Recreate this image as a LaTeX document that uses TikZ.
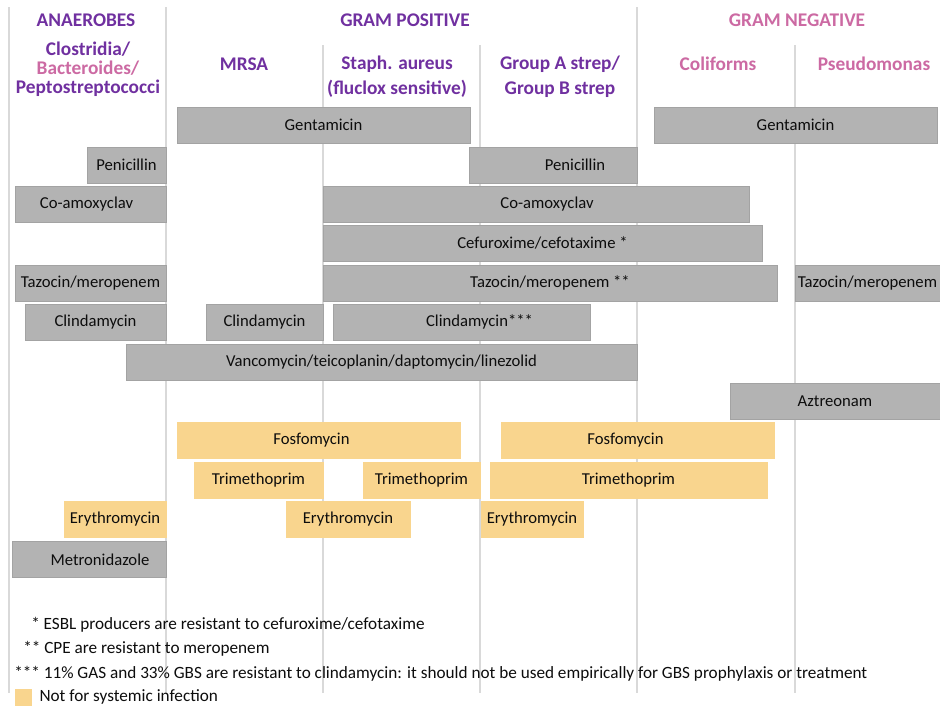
\documentclass[tikz,border=0pt]{standalone}
\usepackage{fontspec}
\setmainfont{Carlito}
\usepackage{tikz}
\definecolor{ink}{HTML}{0D0D0D}
\definecolor{headpos}{HTML}{7030A0}
\definecolor{headneg}{HTML}{CC6AA3}
\definecolor{drugfill}{HTML}{B3B3B3}
\definecolor{drugedge}{HTML}{A3A3A3}
\definecolor{topical}{HTML}{F9D58E}
\definecolor{rulegray}{HTML}{D9D9D9}
\usetikzlibrary{positioning}
\tikzset{
  every node/.style={text=ink},
  span/.style={minimum width=#1*0.75pt},
  nudge/.style={execute at begin node={\hspace*{\dimexpr #1pt*3/2\relax}}},
  drug/.style={
    fill=drugfill,
    draw=drugedge,
    line width=0.4pt,
    minimum height=27pt,
    inner sep=0pt,
    font=\fontsize{12.5}{14}\selectfont
  },
  drugY/.style={drug, fill=topical, draw=topical},
  head/.style={font=\bfseries\fontsize{14.5}{18.75}\selectfont, text=headpos, align=center, inner sep=0pt},
  headN/.style={head, text=headneg},
  note/.style={anchor=west, font=\fontsize{12.9}{14}\selectfont, inner sep=0pt},
  column/.style={draw=rulegray, line width=1.1pt}
}

\begin{document}
\begin{tikzpicture}[x=0.75pt, y=-0.75pt]
  \useasboundingbox (0,0) rectangle (940,711);
  \fill[white] (0,0) rectangle (940,711);

  % Column rules
  \draw[column] (9,7) -- (9,693);
  \draw[column] (166,7) -- (166,693);
  \draw[column] (323,45) -- (323,693);
  \draw[column] (480,45) -- (480,693);
  \draw[column] (637,7) -- (637,693);
  \draw[column] (795,45) -- (795,693);

  % Headings
  \node[head] (anaer) at (86,20) {ANAEROBES};
  \node[head] (gpos) at (405,20) {GRAM POSITIVE};
  \node[headN] (gneg) at (797,20) {GRAM NEGATIVE};
  \node[head, font=\bfseries\fontsize{14.5}{14.25}\selectfont] (clos) at (88,69)
    {Clostridia/\\\textcolor{headneg}{Bacteroides/}\\Peptostreptococci};
  \node[head] (mrsa) at (244,64) {MRSA};
  \node[head] (staph) at (397,76.5) {Staph. aureus\\(fluclox sensitive)};
  \node[head] (strep) at (560,76.5) {Group A strep/\\Group B strep};
  \node[headN] (colif) at (718,64) {Coliforms};
  \node[headN] (pseud) at (874,64) {Pseudomonas};

  % Systemic agents
  \node[drug, span=293] (gentP) at (323.5,125) {Gentamicin};
  \node[drug, span=283] (gentN) at (795.5,125) {Gentamicin};
  \node[drug, span=79] (penA) at (126.5,165) {Penicillin};
  \node[drug, span=168, nudge=22] (penS) at (553,165) {Penicillin};
  \node[drug, span=151, nudge=-4] (coamA) at (90.5,204.5) {Co-amoxyclav};
  \node[drug, span=426, nudge=11] (coamP) at (536,204.5) {Co-amoxyclav};
  \node[drug, span=439] (cef) at (542.5,243) {Cefuroxime/cefotaxime *};
  \node[drug, span=151] (tazA) at (90.5,283) {Tazocin/meropenem};
  \node[drug, span=454] (tazP) at (550,283) {Tazocin/meropenem **};
  \node[drug, span=145] (tazN) at (867.5,283) {Tazocin/meropenem};
  \node[drug, span=141] (clinA) at (95.5,322) {Clindamycin};
  \node[drug, span=117] (clinM) at (264.5,322) {Clindamycin};
  \node[drug, span=257, nudge=18] (clinS) at (461.5,322) {Clindamycin***};
  \node[drug, span=511] (vanc) at (381.5,362) {Vancomycin/teicoplanin/daptomycin/linezolid};
  \node[drug, span=210] (azt) at (835,401) {Aztreonam};

  % Not for systemic infection
  \node[drugY, span=283, nudge=-7] (fosP) at (318.5,440) {Fosfomycin};
  \node[drugY, span=273, nudge=-12] (fosS) at (637.5,440) {Fosfomycin};
  \node[drugY, span=129] (triM) at (258.5,480) {Trimethoprim};
  \node[drugY, span=117] (triS) at (421.5,480) {Trimethoprim};
  \node[drugY, span=277] (triG) at (628.5,480) {Trimethoprim};
  \node[drugY, span=102] (eryA) at (115,519) {Erythromycin};
  \node[drugY, span=124] (eryP) at (348,519) {Erythromycin};
  \node[drugY, span=102] (eryS) at (532,519) {Erythromycin};
  \node[drug, span=154, nudge=11] (metro) at (89,559.5) {Metronidazole};

  % Footnotes
  \node[note] (noteA) at (31,625) {* ESBL producers are resistant to cefuroxime/cefotaxime};
  \node[note] (noteB) at (23,649) {** CPE are resistant to meropenem};
  \node[note] (noteC) at (14,674) {*** 11\% GAS and 33\% GBS are resistant to clindamycin: it should not be used empirically for GBS prophylaxis or treatment};
  \node[drugY, minimum height=12pt, minimum width=12pt] (key) at (23,697) {};
  \node[note, right=6pt of key] (keytxt) {Not for systemic infection};
\end{tikzpicture}
\end{document}
